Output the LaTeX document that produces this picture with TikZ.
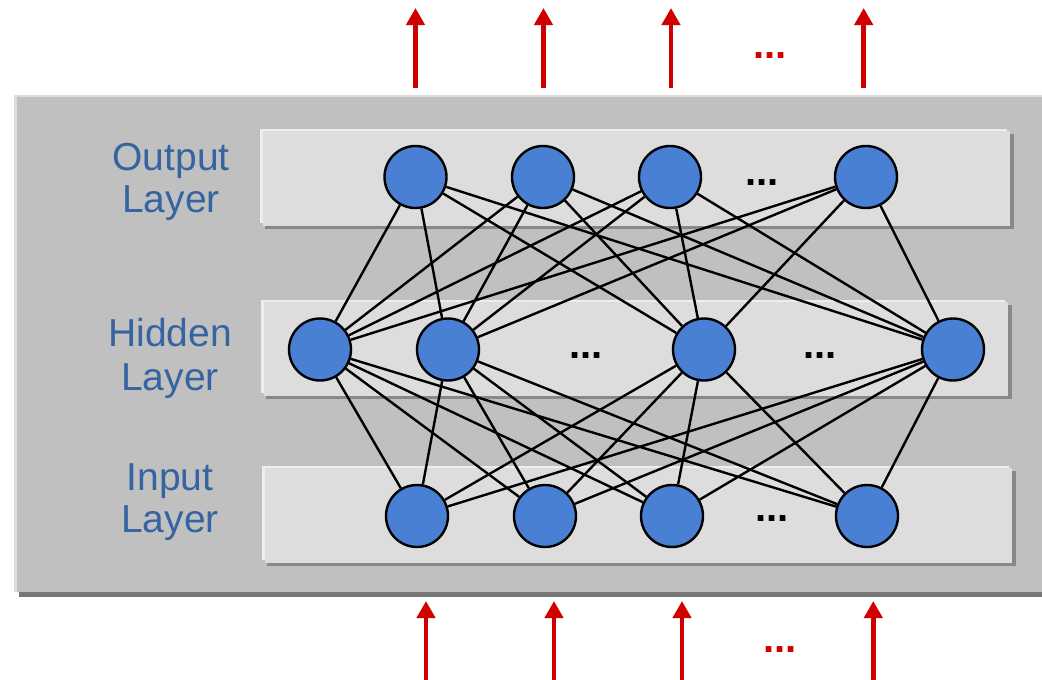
\documentclass[tikz,border=0pt]{standalone}
\usepackage{fontspec}
\setmainfont{Liberation Sans}
\usetikzlibrary{arrows.meta}

\definecolor{panelgray}{RGB}{192,192,192}
\definecolor{panellight}{RGB}{221,221,221}
\definecolor{panelshadow}{RGB}{119,119,119}
\definecolor{bandfill}{RGB}{221,221,221}
\definecolor{bandlight}{RGB}{238,238,238}
\definecolor{bandshadow}{RGB}{136,136,136}
\definecolor{neuronblue}{RGB}{74,128,212}
\definecolor{labelblue}{RGB}{53,100,160}
\definecolor{signalred}{RGB}{208,0,0}

\pgfdeclarelayer{bg}
\pgfdeclarelayer{wires}
\pgfsetlayers{bg,wires,main}

\tikzset{
  neuron/.style={circle, draw=black, line width=2.4pt, fill=neuronblue,
                 minimum size=62pt, inner sep=0pt},
  wire/.style={draw=black, line width=2.4pt},
  signal/.style={draw=signalred, line width=4.5pt,
                 -{Triangle[width=18pt,length=17pt]}},
  layerlabel/.style={anchor=base, inner sep=0pt, text=labelblue,
                     font=\fontsize{39}{43}\selectfont},
  gap/.style={inner sep=0pt, font=\bfseries\fontsize{40}{44}\selectfont},
  redgap/.style={gap, text=signalred},
}

% a raised band: shadow, light bevel, face
\newcommand{\layerband}[4]{%
  \fill[bandshadow] (#1+5,#2+5) rectangle (#3+4,#4+3);
  \fill[bandlight] (#1,#2) rectangle (#3-3,#4-3);
  \fill[bandfill] (#1+3,#2+2) rectangle (#3,#4);
}

\begin{document}
\begin{tikzpicture}[x=1pt,y=-1pt]
\useasboundingbox (0,0) rectangle (1042,680);

\begin{pgfonlayer}{bg}
  % outer panel
  \fill[panelshadow] (19,99) rectangle (1046,597);
  \fill[panellight] (14,95) rectangle (1046,592);
  \fill[panelgray] (17,97) rectangle (1046,592);
  % layer bands
  \layerband{260}{129}{1010}{226}
  \layerband{261}{300}{1008}{396}
  \layerband{262}{466}{1012}{563}
\end{pgfonlayer}

% layer labels
\node[layerlabel] (outA) at (171,170) {Output};
\node[layerlabel] (outB) at (171,212.5) {Layer};
\node[layerlabel] (hidA) at (170,346.5) {Hidden};
\node[layerlabel] (hidB) at (170,390.5) {Layer};
\node[layerlabel] (inA) at (170,490.5) {Input};
\node[layerlabel] (inB) at (170,532.5) {Layer};

% neurons
\node[neuron] (o1) at (415.5,177) {};
\node[neuron] (o2) at (543,177) {};
\node[neuron] (o3) at (670,177) {};
\node[neuron] (o4) at (866,177) {};

\node[neuron] (h1) at (320,349.5) {};
\node[neuron] (h2) at (448,349.5) {};
\node[neuron] (h3) at (704,349.5) {};
\node[neuron] (h4) at (953,349.5) {};

\node[neuron] (i1) at (417,516) {};
\node[neuron] (i2) at (545,516) {};
\node[neuron] (i3) at (672,516) {};
\node[neuron] (i4) at (867,516) {};

% elided neurons
\node[gap] (odots) at (762,183) {...};
\node[gap] (hdotsA) at (586,356) {...};
\node[gap] (hdotsB) at (820,356) {...};
\node[gap] (idots) at (772,519) {...};

% full connections between consecutive layers
\begin{pgfonlayer}{wires}
  \foreach \h in {h1,h2,h3,h4}{
    \foreach \o in {o1,o2,o3,o4}{ \draw[wire] (\h) -- (\o); }
    \foreach \i in {i1,i2,i3,i4}{ \draw[wire] (\h) -- (\i); }
  }
\end{pgfonlayer}

% outgoing signals
\coordinate (ta1) at (415.5,88); \coordinate (tb1) at (415.5,8);
\coordinate (ta2) at (543.5,88); \coordinate (tb2) at (543.5,8);
\coordinate (ta3) at (671,88);   \coordinate (tb3) at (671,8);
\coordinate (ta4) at (863.7,88); \coordinate (tb4) at (863.7,8);
\foreach \k in {1,2,3,4}{ \draw[signal] (ta\k) -- (tb\k); }
\node[redgap] (topdots) at (770,56) {...};

% incoming signals
\coordinate (ba1) at (426,681); \coordinate (bb1) at (426,601);
\coordinate (ba2) at (554,681); \coordinate (bb2) at (554,601);
\coordinate (ba3) at (682,681); \coordinate (bb3) at (682,601);
\coordinate (ba4) at (873.3,681); \coordinate (bb4) at (873.3,601);
\foreach \k in {1,2,3,4}{ \draw[signal] (ba\k) -- (bb\k); }
\node[redgap] (botdots) at (780,650) {...};
\end{tikzpicture}
\end{document}
